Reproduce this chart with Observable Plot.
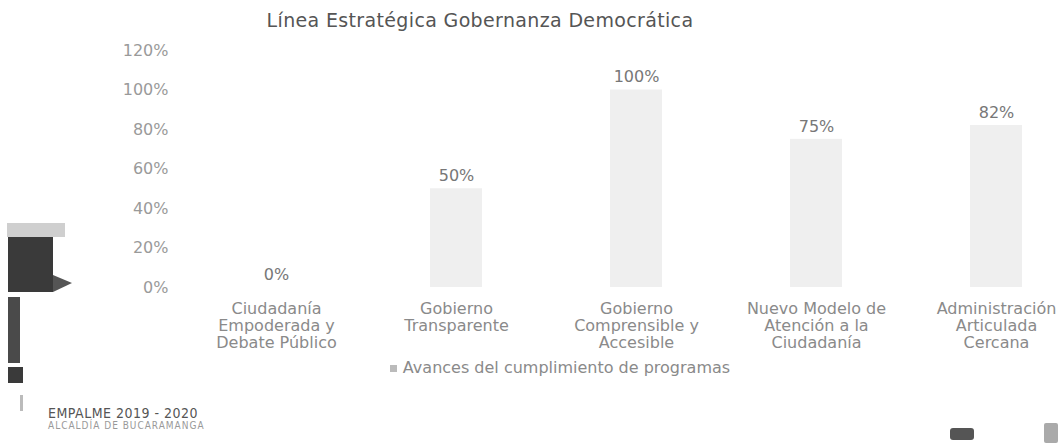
<!DOCTYPE html>
<html>
<head>
<meta charset="utf-8">
<script src="https://cdn.jsdelivr.net/npm/d3@7"></script>
<script src="https://cdn.jsdelivr.net/npm/@observablehq/plot@0.6"></script>
<style>
  body { margin: 0; background: #fff; }
  #wrap { position: relative; width: 1061px; height: 446px; overflow: hidden; font-family: "DejaVu Sans", sans-serif; }
  #chart { position: absolute; left: 0; top: 0; }
  .abs { position: absolute; white-space: nowrap; }
  #title { left: 0; width: 960px; top: 9px; text-align: center; font-size: 19px; letter-spacing: 0.35px; color: #555; }
  #legend { left: 0; width: 1120px; top: 358px; text-align: center; font-size: 16px; color: #8a8a8a; }
  #legend span.sw { display: inline-block; width: 7px; height: 7px; background: #bbb; margin-right: 6px; vertical-align: middle; }
  #brand1 { left: 48px; top: 405px; font-size: 14px; color: #555; font-family: "Liberation Sans Narrow", "DejaVu Sans Condensed", sans-serif; letter-spacing: 0.5px; }
  #brand2 { left: 48px; top: 420px; font-size: 10px; color: #999; font-family: "DejaVu Sans Condensed", sans-serif; letter-spacing: 1px; }
  .blk { position: absolute; background: #3a3a3a; }
</style>
</head>
<body>
<div id="wrap">
  <div id="chart"></div>
  <div id="title" class="abs">Línea Estratégica Gobernanza Democrática</div>
  <div id="legend" class="abs"><span class="sw"></span>Avances del cumplimiento de programas</div>
  <div id="brand1" class="abs">EMPALME 2019 - 2020</div>
  <div id="brand2" class="abs">ALCALDÍA DE BUCARAMANGA</div>
  <div class="blk" style="left:7px;top:223px;width:58px;height:14px;background:#cfcfcf"></div>
  <div class="blk" style="left:8px;top:237px;width:45px;height:55px"></div>
  <div class="blk" style="left:53px;top:275px;width:0;height:0;background:none;border-top:8px solid transparent;border-bottom:9px solid transparent;border-left:19px solid #555"></div>
  <div class="blk" style="left:8px;top:297px;width:12px;height:66px;background:#4a4a4a"></div>
  <div class="blk" style="left:8px;top:367px;width:15px;height:16px"></div>
  <div class="blk" style="left:20px;top:395px;width:3px;height:16px;background:#bbb"></div>
  <div class="blk" style="left:950px;top:428px;width:24px;height:12px;background:#555;border-radius:3px"></div>
  <div class="blk" style="left:1044px;top:423px;width:14px;height:20px;background:#aaa;border-radius:2px"></div>
</div>
<script>
const categories = [
  "Ciudadanía Empoderada y Debate Público",
  "Gobierno Transparente",
  "Gobierno Comprensible y Accesible",
  "Nuevo Modelo de Atención a la Ciudadanía",
  "Administración Articulada y Cercana"
];
const categoryLabels = [
  "Ciudadanía\nEmpoderada y\nDebate Público",
  "Gobierno\nTransparente",
  "Gobierno\nComprensible y\nAccesible",
  "Nuevo Modelo de\nAtención a la\nCiudadanía",
  "Administración\nArticulada\nCercana"
];
const values = [0, 0.50, 1.00, 0.75, 0.82];
const yTicks = [0, 0.2, 0.4, 0.6, 0.8, 1.0, 1.2];

const data = categories.map((c, i) => ({cat: c, label: categoryLabels[i], value: values[i]}));
const pct = d3.format(".0%");

const chart = Plot.plot({
  width: 1061,
  height: 446,
  marginTop: 50,
  marginBottom: 159,
  marginLeft: 170,
  marginRight: 0,
  style: {fontFamily: "DejaVu Sans, sans-serif", fontSize: "16px", background: "transparent", overflow: "visible"},
  x: {domain: categories, range: [186, 1086], paddingInner: 0.71, paddingOuter: 0.355, axis: null},
  y: {domain: [0, 1.2]},
  marks: [
    Plot.barY(data, {x: "cat", y: "value", fill: "#efefef"}),
    Plot.axisY({ticks: yTicks, tickFormat: pct, tickSize: 0, tickPadding: 2, fill: "#9a9a9a", fontSize: 16, label: null}),
    Plot.text(data, {x: "cat", y: "value", text: d => pct(d.value), dy: -13, fill: "#777", fontSize: 16}),
    Plot.text(data, {x: "cat", text: "label", frameAnchor: "bottom", lineAnchor: "top", dy: 14, lineHeight: 1.08, fill: "#8a8a8a", fontSize: 16})
  ]
});
document.getElementById("chart").appendChild(chart);
</script>
</body>
</html>
